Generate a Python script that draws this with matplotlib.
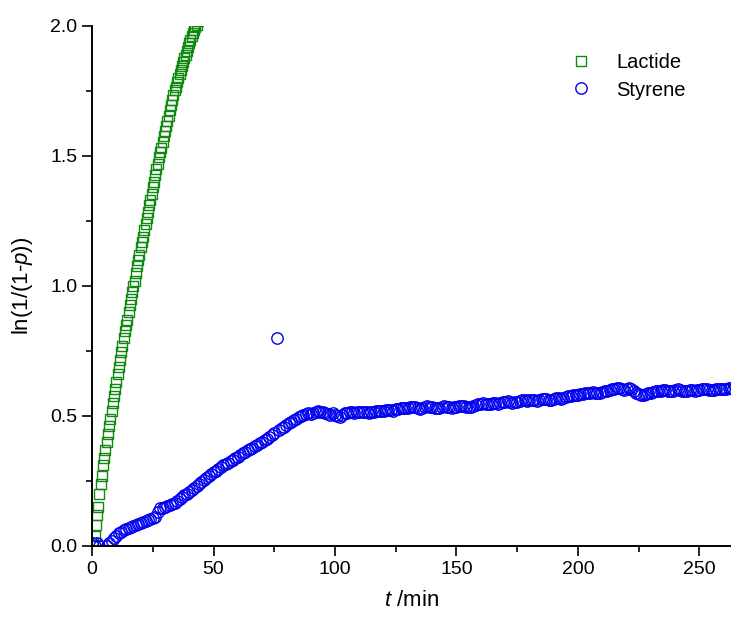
import numpy as np
import matplotlib
matplotlib.use('Agg')
import matplotlib.pyplot as plt
from matplotlib.ticker import MultipleLocator

lactide_t = np.arange(0.5, 44.0, 0.5)
lactide_y = [0.01, 0.04, 0.08, 0.12, 0.15, 0.20, 0.24, 0.27, 0.31, 0.34,
             0.37, 0.40, 0.43, 0.46, 0.49, 0.52, 0.55, 0.575, 0.605, 0.63,
             0.66, 0.69, 0.715, 0.745, 0.77, 0.80, 0.825, 0.85, 0.87, 0.90,
             0.925, 0.95, 0.975, 1.00, 1.02, 1.05, 1.075, 1.10, 1.12, 1.15,
             1.17, 1.19, 1.215, 1.24, 1.26, 1.285, 1.31, 1.33, 1.355, 1.38,
             1.40, 1.425, 1.45, 1.47, 1.495, 1.515, 1.53, 1.555, 1.575, 1.595,
             1.615, 1.635, 1.655, 1.675, 1.695, 1.715, 1.735, 1.755, 1.765, 1.785,
             1.80, 1.815, 1.83, 1.845, 1.86, 1.875, 1.89, 1.905, 1.92, 1.935,
             1.948, 1.96, 1.972, 1.985, 1.995, 2.005, 2.02]

# Styrene: a few early points, then every minute from 6 to 265 min
styrene_t = [0, 1, 2, 3] + list(range(6, 266))
styrene_y = [0.01, 0.0, 0.01, 0.0,
             0.00, 0.01, 0.02, 0.03, 0.04, 0.05, 0.055, 0.06, 0.065, 0.07,
             0.072, 0.078, 0.08, 0.085, 0.09, 0.092, 0.096, 0.10, 0.104, 0.108,
             0.112, 0.13, 0.145, 0.148, 0.15, 0.152, 0.158, 0.16, 0.165, 0.172,
             0.18, 0.188, 0.195, 0.20, 0.209, 0.215, 0.222, 0.23, 0.238, 0.245,
             0.252, 0.26, 0.268, 0.276, 0.286, 0.29, 0.296, 0.302, 0.31, 0.315,
             0.32, 0.326, 0.332, 0.338, 0.343, 0.35, 0.356, 0.363, 0.368, 0.372,
             0.378, 0.384, 0.39, 0.395, 0.40, 0.407, 0.413, 0.42, 0.426, 0.434,
             0.80, 0.445, 0.452, 0.458, 0.465, 0.472, 0.478, 0.484, 0.49, 0.495,
             0.50, 0.503, 0.506, 0.51, 0.508, 0.512, 0.515, 0.518, 0.515, 0.516,
             0.512, 0.508, 0.505, 0.51, 0.505, 0.50, 0.497, 0.505, 0.51, 0.513,
             0.516, 0.515, 0.512, 0.514, 0.516, 0.517, 0.517, 0.515, 0.512, 0.514,
             0.516, 0.518, 0.52, 0.52, 0.52, 0.522, 0.524, 0.522, 0.52, 0.525,
             0.528, 0.53, 0.532, 0.53, 0.53, 0.533, 0.535, 0.534, 0.53, 0.528,
             0.532, 0.536, 0.538, 0.536, 0.534, 0.532, 0.53, 0.532, 0.535, 0.537,
             0.535, 0.533, 0.532, 0.535, 0.535, 0.538, 0.54, 0.538, 0.535, 0.534,
             0.536, 0.54, 0.542, 0.545, 0.548, 0.55, 0.548, 0.545, 0.547, 0.55,
             0.549, 0.547, 0.55, 0.553, 0.555, 0.556, 0.553, 0.55, 0.552, 0.555,
             0.558, 0.56, 0.56, 0.558, 0.562, 0.562, 0.56, 0.558, 0.56, 0.565,
             0.566, 0.564, 0.56, 0.562, 0.565, 0.568, 0.57, 0.567, 0.568, 0.572,
             0.575, 0.578, 0.58, 0.582, 0.58, 0.583, 0.585, 0.587, 0.587, 0.59,
             0.592, 0.59, 0.588, 0.59, 0.593, 0.595, 0.598, 0.60, 0.602, 0.604,
             0.606, 0.606, 0.605, 0.60, 0.602, 0.606, 0.603, 0.598, 0.59, 0.585,
             0.582, 0.58, 0.583, 0.587, 0.59, 0.593, 0.595, 0.597, 0.598, 0.60,
             0.60, 0.598, 0.596, 0.598, 0.60, 0.602, 0.60, 0.598, 0.596, 0.598,
             0.60, 0.60, 0.598, 0.60, 0.60, 0.602, 0.603, 0.602, 0.60, 0.60,
             0.601, 0.603, 0.604, 0.605, 0.605, 0.604, 0.606, 0.606, 0.605, 0.606]

plt.rcParams['font.family'] = ['Liberation Sans', 'DejaVu Sans']
plt.rcParams['mathtext.fontset'] = 'custom'
plt.rcParams['mathtext.it'] = 'Liberation Sans:italic'
plt.rcParams['mathtext.rm'] = 'Liberation Sans'

fig = plt.figure(figsize=(7.31, 6.28), dpi=100)
ax = fig.add_axes([0.126, 0.1306, 0.874, 0.828])

ax.plot(lactide_t, lactide_y, ls='none', marker='s', ms=7.2, mfc='none',
        mec='#118811', mew=1.0, label='Lactide')
ax.plot(styrene_t, styrene_y, ls='none', marker='o', ms=8.2, mfc='none',
        mec='#0000ee', mew=1.0, label='Styrene')

ax.set_xlim(0, 263)
ax.set_ylim(0, 2.0)
ax.xaxis.set_major_locator(MultipleLocator(50))
ax.xaxis.set_minor_locator(MultipleLocator(25))
ax.yaxis.set_major_locator(MultipleLocator(0.5))
ax.yaxis.set_minor_locator(MultipleLocator(0.25))
ax.yaxis.set_major_formatter(matplotlib.ticker.FormatStrFormatter('%.1f'))

for s in ['top', 'right']:
    ax.spines[s].set_visible(False)
for s in ['left', 'bottom']:
    ax.spines[s].set_linewidth(1.4)

ax.tick_params(which='major', direction='out', length=7, width=1.2, labelsize=14)
ax.tick_params(which='minor', direction='out', length=4, width=1.2)

ax.set_xlabel('$t$ /min', fontsize=16, labelpad=9)
ax.set_ylabel('ln(1/(1-$p$))', fontsize=16, labelpad=11)

ax.legend(loc='upper right', frameon=False, fontsize=14.5,
          bbox_to_anchor=(0.958, 0.982), handletextpad=0.74, labelspacing=0.4)

fig.savefig('out.png', dpi=100)
